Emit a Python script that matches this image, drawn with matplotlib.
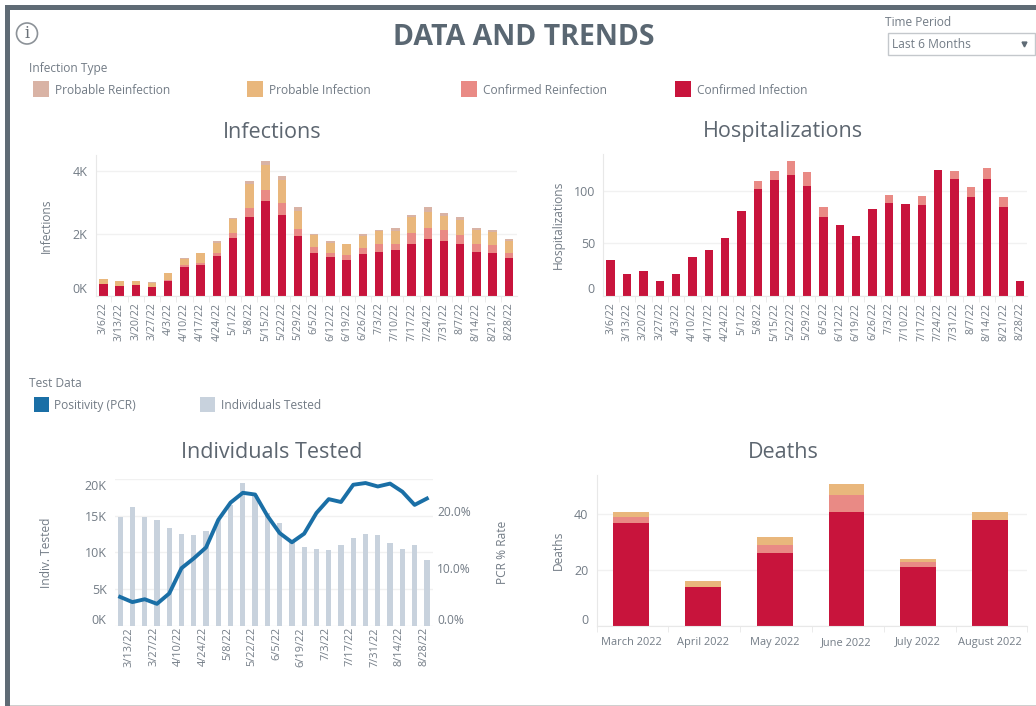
import matplotlib
matplotlib.use("Agg")
import numpy as np
import matplotlib.pyplot as plt
from matplotlib.patches import Rectangle, Circle
from matplotlib.transforms import ScaledTranslation, blended_transform_factory

W, H = 1036, 706
plt.rcParams['font.family'] = ['Open Sans', 'DejaVu Sans']

weeks = ["3/6/22", "3/13/22", "3/20/22", "3/27/22", "4/3/22", "4/10/22", "4/17/22", "4/24/22", "5/1/22",
         "5/8/22", "5/15/22", "5/22/22", "5/29/22", "6/5/22", "6/12/22", "6/19/22", "6/26/22", "7/3/22",
         "7/10/22", "7/17/22", "7/24/22", "7/31/22", "8/7/22", "8/14/22", "8/21/22", "8/28/22"]
months = ["March 2022", "April 2022", "May 2022", "June 2022", "July 2022", "August 2022"]

inf_confirmed = [365, 320, 355, 290, 470, 930, 1000, 1275, 1845, 2520, 3035, 2595, 1920,
                 1370, 1245, 1160, 1340, 1415, 1470, 1650, 1810, 1770, 1650, 1415, 1370, 1200]
inf_conf_re = [0, 0, 0, 0, 25, 55, 40, 85, 180, 310, 375, 385, 225,
               195, 115, 150, 195, 255, 200, 365, 365, 340, 320, 255, 270, 160]
inf_prob = [160, 150, 115, 130, 225, 195, 320, 345, 450, 780, 805, 740, 590,
            395, 345, 350, 395, 420, 400, 525, 515, 450, 465, 460, 395, 400]
inf_prob_re = [10, 10, 10, 10, 20, 20, 25, 65, 25, 70, 115, 120, 105,
               35, 65, 20, 65, 20, 115, 65, 150, 90, 95, 55, 65, 70]

hosp_confirmed = [34, 21, 24, 14, 21, 37, 44, 55, 81, 102, 111, 115, 105,
                  75, 68, 57, 83, 89, 88, 87, 120, 112, 94, 112, 85, 14]
hosp_conf_re = [0, 0, 0, 0, 0, 0, 0, 0, 0, 8, 8, 14, 13,
                10, 0, 0, 0, 7, 0, 8, 0, 7, 10, 10, 9, 0]

tested = [14860, 16230, 14860, 14400, 13270, 12500, 12320, 12950, 14400, 16450, 19450, 17800, 15360,
          14040, 11550, 10700, 10500, 10300, 11000, 12000, 12500, 12300, 11300, 10400, 11000, 8900]
pcr_rate = [5.0, 4.1, 4.6, 3.8, 5.6, 10.0, 11.7, 13.6, 18.4, 21.4, 23.1, 22.8, 19.1,
            16.1, 14.5, 16.0, 19.6, 22.0, 21.5, 24.5, 24.8, 24.2, 24.7, 23.3, 21.0, 22.1]

death_confirmed = [37, 14, 26, 41, 21, 38]
death_conf_re = [2, 0, 3, 6, 2, 0]
death_prob = [2, 2, 3, 4, 1, 3]

RED = "#c8143c"
PINK = "#e98a85"
ORANGE = "#e9b77c"
TAN = "#d9b3a5"
BLUE = "#1a6fa6"
SLATE = "#c8d2dd"
TEXT = "#737c86"
GRID = "#f1f1f1"
AXIS = "#e8e8e8"


def px(size):
    return size * 0.72


def box(left, top, right, bottom):
    return [left / W, 1 - bottom / H, (right - left) / W, (bottom - top) / H]


def shift(label, dx=0, dy=0):
    label.set_transform(label.get_transform() + ScaledTranslation(dx / 100, dy / 100, fig.dpi_scale_trans))


def place_ylabel(ax, ylab, x):
    ax.set_ylabel(ylab, fontsize=px(12), color=TEXT)
    ax.yaxis.set_label_coords(x / W, 0.5, transform=blended_transform_factory(fig.transFigure, ax.transAxes))


def style(ax, ylab, ylab_x):
    for s in ["top", "right"]:
        ax.spines[s].set_visible(False)
    for s in ["left", "bottom"]:
        ax.spines[s].set_color(AXIS)
        ax.spines[s].set_linewidth(0.8)
    ax.set_axisbelow(True)
    ax.grid(axis="y", color=GRID, linewidth=1)
    ax.tick_params(axis="y", length=0, labelsize=px(12.5), labelcolor=TEXT, pad=6)
    ax.tick_params(axis="x", length=0, labelcolor=TEXT, pad=5)
    place_ylabel(ax, ylab, ylab_x)


fig = plt.figure(figsize=(W / 100, H / 100), dpi=100, facecolor="white")
bg = fig.add_axes([0, 0, 1, 1], zorder=0)
bg.set_xlim(0, W)
bg.set_ylim(H, 0)
bg.axis("off")

# report frame
bg.add_patch(Rectangle((5, 5), W - 5, 5, color="#5f6b75", lw=0))
bg.add_patch(Rectangle((5, 5), 5, H - 5, color="#5f6b75", lw=0))
bg.add_patch(Rectangle((10, 704.5), W - 10, 1.5, color="#cfcfcf", lw=0))

# header
bg.text(523.5, 37.5, "DATA AND TRENDS", fontsize=px(28.5), fontweight="bold", color="#5a6772", ha="center", va="center")
bg.add_patch(Circle((27, 33.5), 10.5, fill=False, ec="#8c9298", lw=1.2))
bg.text(27, 33.5, "i", fontsize=px(16), color="#6a7178", ha="center", va="center", family="DejaVu Serif")

bg.text(885, 22, "Time Period", fontsize=px(12), color=TEXT, va="center")
bg.add_patch(Rectangle((887.5, 32.5), 147, 22, fc="white", ec="#c4c8cc", lw=1))
bg.text(892, 44.5, "Last 6 Months", fontsize=px(12), color=TEXT, va="center")
bg.plot([1024], [43.5], marker="v", ms=3.5, color="#5f6b75", ls="none")

# legends
bg.text(29, 68.5, "Infection Type", fontsize=px(12), color=TEXT, va="center")
legend_items = [("Probable Reinfection", TAN, 33), ("Probable Infection", ORANGE, 247),
                ("Confirmed Reinfection", PINK, 461), ("Confirmed Infection", RED, 675)]
for name, col, x in legend_items:
    bg.add_patch(Rectangle((x, 80.5), 16, 16, color=col, lw=0))
    bg.text(x + 22, 90.5, name, fontsize=px(12), color=TEXT, va="center")

bg.text(29, 383.5, "Test Data", fontsize=px(12), color=TEXT, va="center")
bg.add_patch(Rectangle((33.5, 396.5), 15, 15, color=BLUE, lw=0))
bg.text(54.5, 405.5, "Positivity (PCR)", fontsize=px(12), color=TEXT, va="center")
bg.add_patch(Rectangle((200, 396.5), 14.5, 15, color=SLATE, lw=0))
bg.text(221, 405.5, "Individuals Tested", fontsize=px(12), color=TEXT, va="center")

# chart titles
titles = [("Infections", 272.5, 132), ("Hospitalizations", 783, 132),
          ("Individuals Tested", 272, 453), ("Deaths", 783, 453)]
for name, x, y in titles:
    bg.text(x, y, name, fontsize=px(21.5), color="#5d6670", ha="center", va="center")

idx = np.arange(len(weeks))

# Infections
ax1 = fig.add_axes(box(96, 155, 517, 295.7), zorder=1)
ax1.patch.set_alpha(0)
bottom = np.zeros(len(weeks))
for vals, col in [(inf_confirmed, RED), (inf_conf_re, PINK), (inf_prob, ORANGE), (inf_prob_re, TAN)]:
    ax1.bar(idx, vals, width=0.52, bottom=bottom, color=col)
    bottom = bottom + np.array(vals)
ax1.set_xlim(-0.45, 25.5)
ax1.set_ylim(0, 4530)
ax1.set_yticks([0, 2000, 4000])
ax1.set_yticklabels(["0K", "2K", "4K"])
ax1.set_xticks(idx)
ax1.set_xticklabels(weeks, rotation=90, fontsize=px(10.5))
style(ax1, "Infections", 52.5)
ax1.tick_params(axis="x", pad=5)
shift(ax1.get_yticklabels()[0], dy=8)

# Hospitalizations
ax2 = fig.add_axes(box(603.3, 154, 1027.3, 295.7), zorder=1)
ax2.patch.set_alpha(0)
ax2.bar(idx, hosp_confirmed, width=0.51, color=RED)
ax2.bar(idx, hosp_conf_re, width=0.51, bottom=hosp_confirmed, color=PINK)
ax2.set_xlim(-0.45, 25.45)
ax2.set_ylim(0, 135.5)
ax2.set_yticks([0, 50, 100])
ax2.set_xticks(idx)
ax2.set_xticklabels(weeks, rotation=90, fontsize=px(10.5))
style(ax2, "Hospitalizations", 564.5)
ax2.tick_params(axis="x", pad=5)
shift(ax2.get_yticklabels()[0], dy=8)

# Individuals tested with PCR rate on the second axis
ax3 = fig.add_axes(box(115, 479, 433, 625.7), zorder=1)
ax3.patch.set_alpha(0)
ax3.bar(idx, tested, width=0.43, color=SLATE)
ax3.set_xlim(-0.42, 25.5)
ax3.set_ylim(0, 20000)
ax3.set_yticks([0, 5000, 10000, 15000, 20000])
ax3.set_yticklabels(["0K", "5K", "10K", "15K", "20K"])
ax3.set_xticks(idx[1::2])
ax3.set_xticklabels(weeks[1::2], rotation=90, fontsize=px(11))
style(ax3, "Indiv. Tested", 53.5)
ax3.tick_params(axis="x", pad=1)
ax3.spines["left"].set_visible(False)
ax3.spines["bottom"].set_visible(False)
shift(ax3.get_yticklabels()[0], dy=7)
shift(ax3.get_yticklabels()[-1], dy=-6)
for lab in ax3.get_xticklabels():
    shift(lab, dx=-3)

ax3b = ax3.twinx()
ax3b.plot(idx, pcr_rate, color=BLUE, linewidth=2.8, solid_joinstyle="round")
ax3b.set_ylim(0, 25.5)
ax3b.set_yticks([0, 10, 20])
ax3b.set_yticklabels(["0.0%", "10.0%", "20.0%"])
ax3b.tick_params(axis="y", length=0, labelsize=px(12), labelcolor=TEXT, pad=3)
for s in ax3b.spines.values():
    s.set_visible(False)
place_ylabel(ax3b, "PCR % Rate", 495.5)
shift(ax3b.get_yticklabels()[0], dy=7)

# Deaths
ax4 = fig.add_axes(box(596.7, 475, 1027.3, 626), zorder=1)
ax4.patch.set_alpha(0)
m = np.arange(len(months))
bottom = np.zeros(len(months))
for vals, col in [(death_confirmed, RED), (death_conf_re, PINK), (death_prob, ORANGE)]:
    ax4.bar(m, vals, width=0.5, bottom=bottom, color=col)
    bottom = bottom + np.array(vals)
ax4.set_xlim(-0.48, 5.5)
ax4.set_ylim(0, 54.1)
ax4.set_yticks([0, 20, 40])
ax4.set_xticks(m)
ax4.set_xticklabels(months, fontsize=px(11))
style(ax4, "Deaths", 564.5)
ax4.tick_params(axis="x", pad=8)
ax4.set_xticks(np.arange(-0.48, 5.6, 1), minor=True)
ax4.tick_params(axis="x", which="minor", length=4, color=AXIS)
shift(ax4.get_yticklabels()[0], dy=7)

for ax in [ax1, ax2]:
    ax.set_xticks(idx[:-1] + 0.5, minor=True)
    ax.tick_params(axis="x", which="minor", length=4, color=AXIS)

fig.savefig("out.png", dpi=100)
